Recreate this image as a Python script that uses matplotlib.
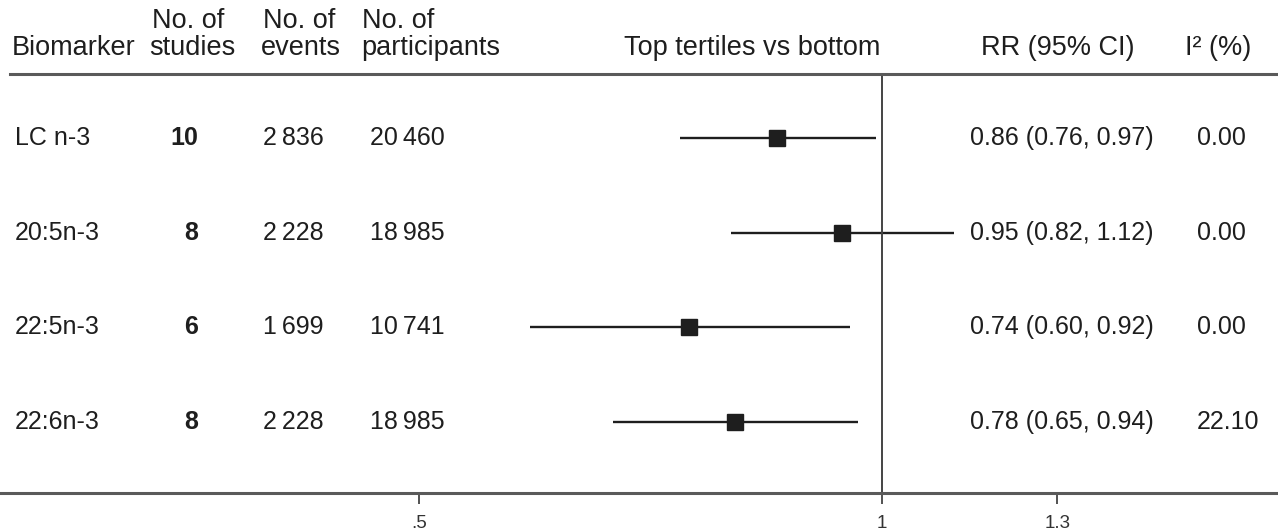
import numpy as np
import matplotlib
matplotlib.use('Agg')
import matplotlib.pyplot as plt

plt.rcParams['font.family'] = ['Liberation Sans', 'DejaVu Sans']

# rows of the forest plot
biomarkers = ['LC n-3', '20:5n-3', '22:5n-3', '22:6n-3']
n_studies = [10, 8, 6, 8]
n_events = [2836, 2228, 1699, 2228]
n_participants = [20460, 18985, 10741, 18985]

# RR (95% CI) as printed
rr_txt = [0.86, 0.95, 0.74, 0.78]
lo_txt = [0.76, 0.82, 0.60, 0.65]
hi_txt = [0.97, 1.12, 0.92, 0.94]
i2 = [0.00, 0.00, 0.00, 22.10]

# where the marks are drawn (log scale)
rr_plot = [0.855, 0.942, 0.749, 0.802]
lo_plot = [0.739, 0.798, 0.590, 0.669]
hi_plot = [0.991, 1.114, 0.953, 0.965]

xticks = [0.5, 1, 1.3]
xticklabels = ['.5', '1', '1.3']

W, H = 1278, 529
ink = '#1e1e1e'


def thin(n):
    return '{:,}'.format(n).replace(',', '\u2009')


fig = plt.figure(figsize=(W / 100, H / 100), dpi=100)

# forest axes (log x), y in pixels from top
ax = fig.add_axes([0, 0, 1, 1], facecolor='none')
ax.set_xscale('log')
ax.set_xlim(np.exp(-882 / 668), np.exp((W - 882) / 668))
ax.set_ylim(H, 0)

row_y = 138 + 94.7 * np.arange(len(biomarkers))

for y, e, lo, hi in zip(row_y, rr_plot, lo_plot, hi_plot):
    ax.plot([lo, hi], [y, y], color=ink, lw=1.7, solid_capstyle='butt')
    ax.plot(e, y, marker='s', ms=11.5, color=ink, mec=ink)

ax.vlines(1, 74, 493, color='#444444', lw=1.4)
ax.axhline(74, xmin=10 / W, xmax=1, color='#5a5a5a', lw=2.2)

for s in ['left', 'right', 'top']:
    ax.spines[s].set_visible(False)
ax.spines['bottom'].set_position(('data', 493))
ax.spines['bottom'].set_color('#5a5a5a')
ax.spines['bottom'].set_linewidth(2.2)
ax.set_yticks([])
ax.xaxis.set_minor_locator(matplotlib.ticker.NullLocator())
ax.set_xticks(xticks)
ax.set_xticklabels(xticklabels)
ax.tick_params(axis='x', direction='out', length=8, width=1.3, color='#444444',
               labelsize=13.5, labelcolor='#333333', pad=7.5)

# text layer in pixel coordinates
tx = fig.add_axes([0, 0, 1, 1], facecolor='none')
tx.set_xlim(0, W)
tx.set_ylim(H, 0)
tx.axis('off')

hs = 19.5
tx.text(12, 48, 'Biomarker', fontsize=hs, color=ink, va='center')
tx.text(152, 21, 'No. of', fontsize=hs, color=ink, va='center')
tx.text(149, 48, 'studies', fontsize=hs, color=ink, va='center')
tx.text(263, 21, 'No. of', fontsize=hs, color=ink, va='center')
tx.text(261, 48, 'events', fontsize=hs, color=ink, va='center')
tx.text(362, 21, 'No. of', fontsize=hs, color=ink, va='center')
tx.text(361, 48, 'participants', fontsize=hs, color=ink, va='center')
tx.text(624, 48, 'Top tertiles vs bottom', fontsize=hs, color=ink, va='center')
tx.text(981, 48, 'RR (95% CI)', fontsize=hs, color=ink, va='center')
tx.text(1185, 48, 'I\u00b2 (%)', fontsize=hs, color=ink, va='center')

rs = 18
for i, y in enumerate(row_y):
    tx.text(15, y, biomarkers[i], fontsize=rs, color=ink, va='center')
    tx.text(198, y, str(n_studies[i]), fontsize=rs, color=ink, va='center',
            ha='right', fontweight='bold')
    tx.text(263, y, thin(n_events[i]), fontsize=rs, color=ink, va='center')
    tx.text(370, y, thin(n_participants[i]), fontsize=rs, color=ink, va='center')
    tx.text(970, y, '{:.2f} ({:.2f}, {:.2f})'.format(rr_txt[i], lo_txt[i], hi_txt[i]),
            fontsize=rs, color=ink, va='center')
    tx.text(1197, y, '{:.2f}'.format(i2[i]), fontsize=rs, color=ink, va='center')

fig.savefig('out.png', dpi=100)
